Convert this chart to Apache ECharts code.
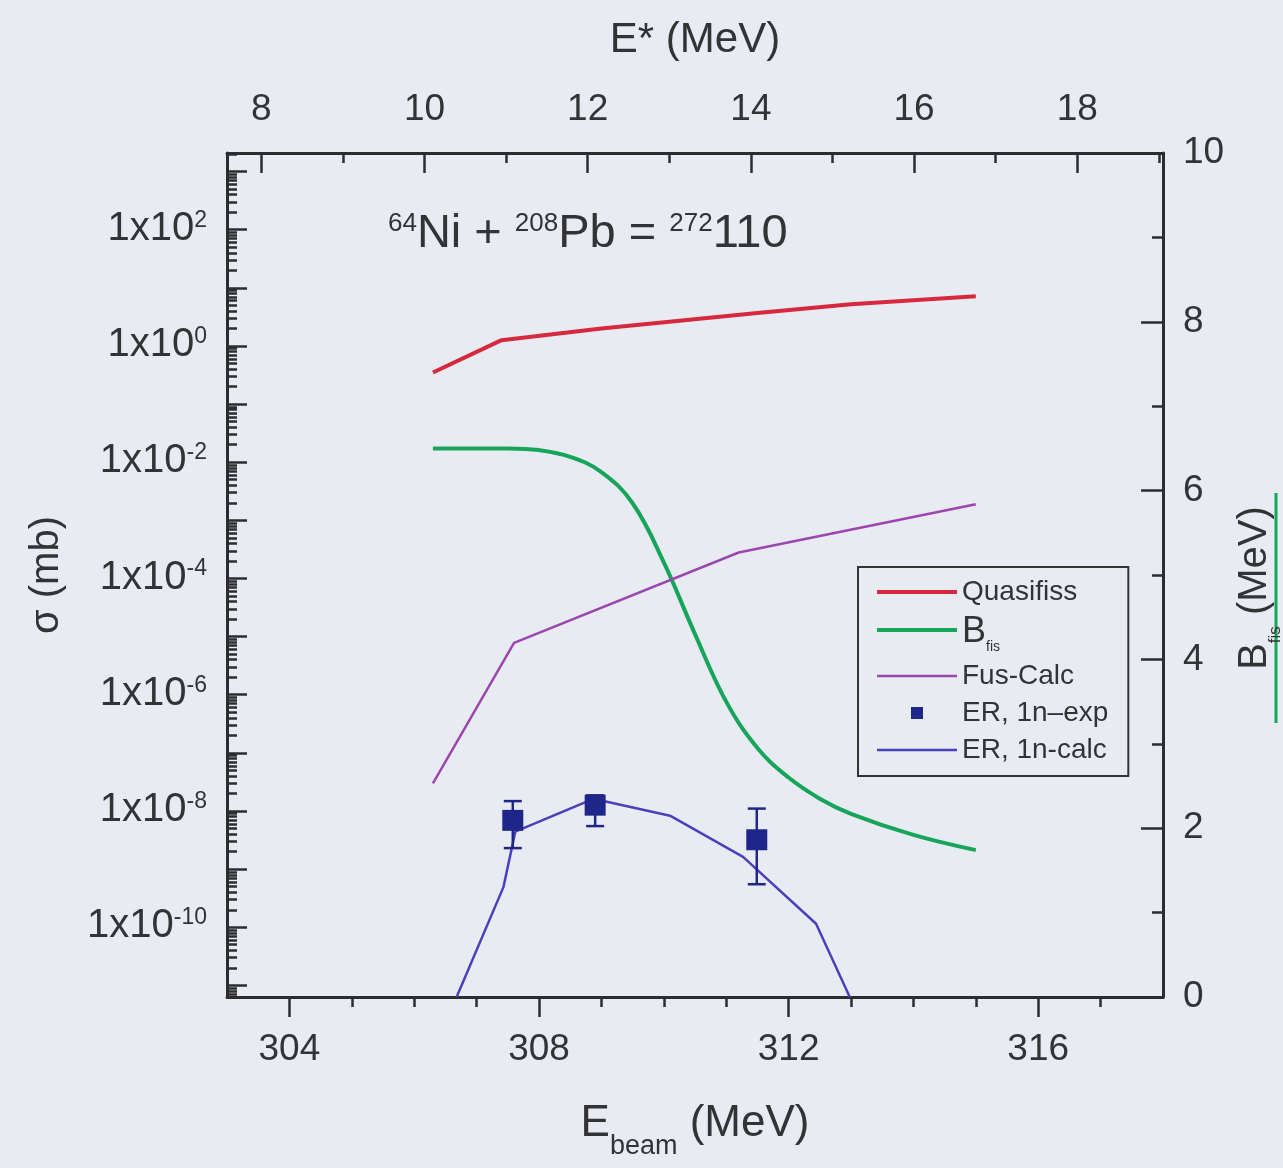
<!DOCTYPE html>
<html>
<head>
<meta charset="utf-8">
<script src="https://cdn.jsdelivr.net/npm/echarts@6/dist/echarts.min.js"></script>
<style>
html, body { margin: 0; padding: 0; background: #e8ecf2; }
#chart { width: 1283px; height: 1168px; }
</style>
</head>
<body>
<div id="chart"></div>
<script>
// energies in MeV (lab), cross sections in mb, B_fis in MeV
var quasiE = [306.3, 307.4, 309.0, 311.5, 313.0, 315.0];
var quasiSigma = [0.35, 1.26, 2.0, 3.7, 5.2, 7.2];

var bfisE = [306.3, 307.0, 307.5, 308.0, 308.5, 309.0, 309.5, 310.0, 310.5, 311.0, 311.5, 312.0, 312.5, 313.0, 314.0, 315.0];
var bfis = [6.5, 6.5, 6.5, 6.48, 6.4, 6.22, 5.85, 5.15, 4.3, 3.5, 2.95, 2.6, 2.35, 2.17, 1.92, 1.74];

var fusE = [306.3, 307.6, 311.2, 315.0];
var fusSigma = [3.0e-8, 7.8e-6, 2.8e-4, 1.9e-3];

var erExpE = [307.58, 308.9, 311.49];
var erExpSigma = [6.9e-9, 1.26e-8, 3.2e-9];
var erExpLow = [2.3e-9, 5.5e-9, 5.5e-10];
var erExpHigh = [1.48e-8, 1.86e-8, 1.1e-8];

var erCalcE = [306.68, 307.43, 307.62, 308.87, 310.10, 311.27, 312.44, 312.98];
var erCalcSigma = [6.3e-12, 4.9e-10, 4.4e-9, 1.62e-8, 8.3e-9, 1.62e-9, 1.15e-10, 6.3e-12];

// tick positions
var beamMajor = [304, 308, 312, 316];
var beamMinor = [305, 306, 307, 309, 310, 311, 313, 314, 315, 317];
var exMajor = [8, 10, 12, 14, 16, 18];
var exMinor = [9, 11, 13, 15, 17, 19];
var sigmaLabels = [-10, -8, -6, -4, -2, 0, 2];

var sigmaMin = -11.2, sigmaMax = 3.32;
var sigmaDecades = [];
var sigmaMinor = [];
for (var n = -12; n <= 3; n++) {
    if (n >= sigmaMin && n <= sigmaMax) sigmaDecades.push(n);
    for (var k = 2; k <= 9; k++) {
        var v = n + Math.log10(k);
        if (v > sigmaMin && v < sigmaMax) sigmaMinor.push(v);
    }
}

function lg(v) { return Math.log10(v); }
function pairs(xs, ys, f) {
    return xs.map(function (x, i) { return [x, f ? f(ys[i]) : ys[i]]; });
}

var axisColor = '#2d2d2f';
var textColor = '#333336';
var font = 'Liberation Sans';
var red = '#d8283e', green = '#17a55c', purple = '#9c46b0', blue = '#4a40bc', navy = '#1f268a';

var tickStyle = { color: axisColor, width: 2.5 };
var lineAxis = { onZero: false, lineStyle: { color: axisColor, width: 3 } };
var labelBase = { fontSize: 37, color: textColor, fontFamily: font };

// thick / thin line keys for the legend
var thickKey = 'path://M0,0M80,14M0,5h80v4H0z';
var thinKey = 'path://M0,0M80,14M0,5.75h80v2.5H0z';

var myChart = echarts.init(document.getElementById('chart'));

var option = {
    backgroundColor: '#e8ecf2',
    animation: false,
    title: {
        text: '{s|64}{m|Ni + }{s|208}{m|Pb = }{s|272}{m|110}',
        left: 383,
        top: 206,
        textStyle: {
            fontFamily: font,
            fontWeight: 'normal',
            color: textColor,
            rich: {
                m: { fontSize: 47, lineHeight: 50, fontWeight: 'normal', verticalAlign: 'top', color: textColor, fontFamily: font },
                s: { fontSize: 26, lineHeight: 26, fontWeight: 'normal', verticalAlign: 'top', color: textColor, fontFamily: font }
            }
        }
    },
    grid: { left: 227, top: 153, width: 936, height: 844, outerBoundsMode: 'none' },
    legend: {
        orient: 'vertical',
        left: 858,
        top: 567,
        padding: [10, 20, 11, 19],
        borderColor: '#333',
        borderWidth: 2,
        borderRadius: 0,
        itemWidth: 80,
        itemHeight: 14,
        itemGap: 7,
        itemTextGap: 15,
        selectedMode: false,
        data: [
            { name: 'Quasifiss', icon: thickKey },
            { name: 'Bfis', icon: thickKey },
            { name: 'Fus-Calc', icon: thinKey },
            { name: 'ER, 1n–exp', icon: 'path://M0,0M80,14M34,1h12v12h-12z' },
            { name: 'ER, 1n-calc', icon: thinKey }
        ],
        formatter: function (name) {
            return name === 'Bfis' ? '{b|B}{sub|fis}' : name;
        },
        textStyle: {
            fontSize: 28,
            lineHeight: 30,
            color: textColor,
            fontFamily: font,
            rich: {
                b: { fontSize: 36, lineHeight: 32, verticalAlign: 'top', color: textColor, fontFamily: font },
                sub: { fontSize: 14, lineHeight: 14, padding: [26, 0, 0, 0], verticalAlign: 'top', color: textColor, fontFamily: font }
            }
        }
    },
    xAxis: [
        {
            type: 'value', min: 303, max: 318, position: 'bottom',
            name: '{m|E}{sub|beam}{m| (MeV)}',
            nameLocation: 'middle',
            nameGap: 105,
            nameTextStyle: {
                rich: {
                    m: { fontSize: 44, lineHeight: 46, verticalAlign: 'top', color: textColor, fontFamily: font },
                    sub: { fontSize: 27, lineHeight: 27, padding: [31, 0, 0, 0], verticalAlign: 'top', color: textColor, fontFamily: font }
                }
            },
            axisLine: lineAxis,
            axisTick: { inside: false, length: 20, customValues: beamMajor, lineStyle: tickStyle },
            axisLabel: Object.assign({ customValues: beamMajor, margin: 34 }, labelBase),
            splitLine: { show: false }
        },
        {
            type: 'value', min: 303, max: 318, position: 'bottom',
            axisLine: { show: false, onZero: false },
            axisTick: { inside: false, length: 10, customValues: beamMinor, lineStyle: tickStyle },
            axisLabel: { show: false },
            splitLine: { show: false }
        },
        {
            type: 'value', min: 7.58, max: 19.05, position: 'top',
            name: 'E* (MeV)',
            nameLocation: 'middle',
            nameGap: 92,
            nameTextStyle: { fontSize: 42, color: textColor, fontFamily: font },
            axisLine: lineAxis,
            axisTick: { inside: true, length: 20, customValues: exMajor, lineStyle: tickStyle },
            axisLabel: Object.assign({ customValues: exMajor, margin: 25 }, labelBase),
            splitLine: { show: false }
        },
        {
            type: 'value', min: 7.58, max: 19.05, position: 'top',
            axisLine: { show: false, onZero: false },
            axisTick: { inside: true, length: 10, customValues: exMinor, lineStyle: tickStyle },
            axisLabel: { show: false },
            splitLine: { show: false }
        }
    ],
    yAxis: [
        {
            type: 'value', min: sigmaMin, max: sigmaMax, position: 'left',
            name: 'σ (mb)',
            nameLocation: 'middle',
            nameRotate: 90,
            nameGap: 160,
            nameTextStyle: { fontSize: 40, color: textColor, fontFamily: font },
            axisLine: lineAxis,
            axisTick: { inside: true, length: 20, customValues: sigmaDecades, lineStyle: tickStyle },
            axisLabel: {
                customValues: sigmaLabels,
                margin: 20,
                formatter: function (v) { return '{m|1x10}{s|' + Math.round(v) + '}'; },
                rich: {
                    m: { fontSize: 40, lineHeight: 42, verticalAlign: 'top', color: textColor, fontFamily: font },
                    s: { fontSize: 23, lineHeight: 23, verticalAlign: 'top', color: textColor, fontFamily: font }
                }
            },
            splitLine: { show: false }
        },
        {
            type: 'value', min: sigmaMin, max: sigmaMax, position: 'left',
            axisLine: { show: false, onZero: false },
            axisTick: { inside: true, length: 10, customValues: sigmaMinor, lineStyle: tickStyle },
            axisLabel: { show: false },
            splitLine: { show: false }
        },
        {
            type: 'value', min: 0, max: 10, interval: 2, position: 'right',
            name: '{m|B}{sub|fis}{e| (MeV)}',
            nameLocation: 'middle',
            nameRotate: 90,
            nameGap: 50,
            nameTextStyle: {
                rich: {
                    m: { fontSize: 40, lineHeight: 44, verticalAlign: 'top', color: textColor, fontFamily: font },
                    e: { fontSize: 40, lineHeight: 44, padding: [0, 26, 0, 0], verticalAlign: 'top', color: textColor, fontFamily: font },
                    sub: { fontSize: 17, lineHeight: 17, padding: [32, 0, 0, 0], verticalAlign: 'top', color: textColor, fontFamily: font }
                }
            },
            axisLine: lineAxis,
            axisTick: { inside: true, length: 22, lineStyle: tickStyle },
            minorTick: { show: true, splitNumber: 2, length: 11, lineStyle: tickStyle },
            axisLabel: Object.assign({ margin: 20 }, labelBase),
            splitLine: { show: false },
            minorSplitLine: { show: false }
        }
    ],
    graphic: [
        {
            type: 'line',
            shape: { x1: 1276, y1: 493, x2: 1276, y2: 723 },
            style: { stroke: green, lineWidth: 3 }
        }
    ],
    series: [
        {
            name: 'Quasifiss', type: 'line', xAxisIndex: 0, yAxisIndex: 0,
            data: pairs(quasiE, quasiSigma, lg),
            symbol: 'none', color: red, lineStyle: { width: 4, color: red }
        },
        {
            name: 'Bfis', type: 'line', xAxisIndex: 0, yAxisIndex: 2,
            data: pairs(bfisE, bfis),
            smooth: 0.4,
            symbol: 'none', color: green, lineStyle: { width: 4, color: green }
        },
        {
            name: 'Fus-Calc', type: 'line', xAxisIndex: 0, yAxisIndex: 0,
            data: pairs(fusE, fusSigma, lg),
            symbol: 'none', color: purple, lineStyle: { width: 2.5, color: purple }
        },
        {
            name: 'ER, 1n-calc', type: 'line', xAxisIndex: 0, yAxisIndex: 0,
            data: pairs(erCalcE, erCalcSigma, lg),
            symbol: 'none', color: blue, lineStyle: { width: 2.5, color: blue }
        },
        {
            name: 'ER errors', type: 'custom', xAxisIndex: 0, yAxisIndex: 0,
            data: erExpE.map(function (e, i) { return [e, lg(erExpLow[i]), lg(erExpHigh[i])]; }),
            renderItem: function (params, api) {
                var lo = api.coord([api.value(0), api.value(1)]);
                var hi = api.coord([api.value(0), api.value(2)]);
                var w = 9;
                var st = { stroke: navy, lineWidth: 2.5, fill: null };
                return {
                    type: 'group',
                    children: [
                        { type: 'line', shape: { x1: lo[0], y1: lo[1], x2: hi[0], y2: hi[1] }, style: st },
                        { type: 'line', shape: { x1: lo[0] - w, y1: lo[1], x2: lo[0] + w, y2: lo[1] }, style: st },
                        { type: 'line', shape: { x1: hi[0] - w, y1: hi[1], x2: hi[0] + w, y2: hi[1] }, style: st }
                    ]
                };
            },
            z: 4
        },
        {
            name: 'ER, 1n–exp', type: 'scatter', xAxisIndex: 0, yAxisIndex: 0,
            data: pairs(erExpE, erExpSigma, lg),
            symbol: 'rect', symbolSize: 21,
            itemStyle: { color: navy, opacity: 1 },
            z: 5
        }
    ]
};

myChart.setOption(option);
</script>
</body>
</html>
